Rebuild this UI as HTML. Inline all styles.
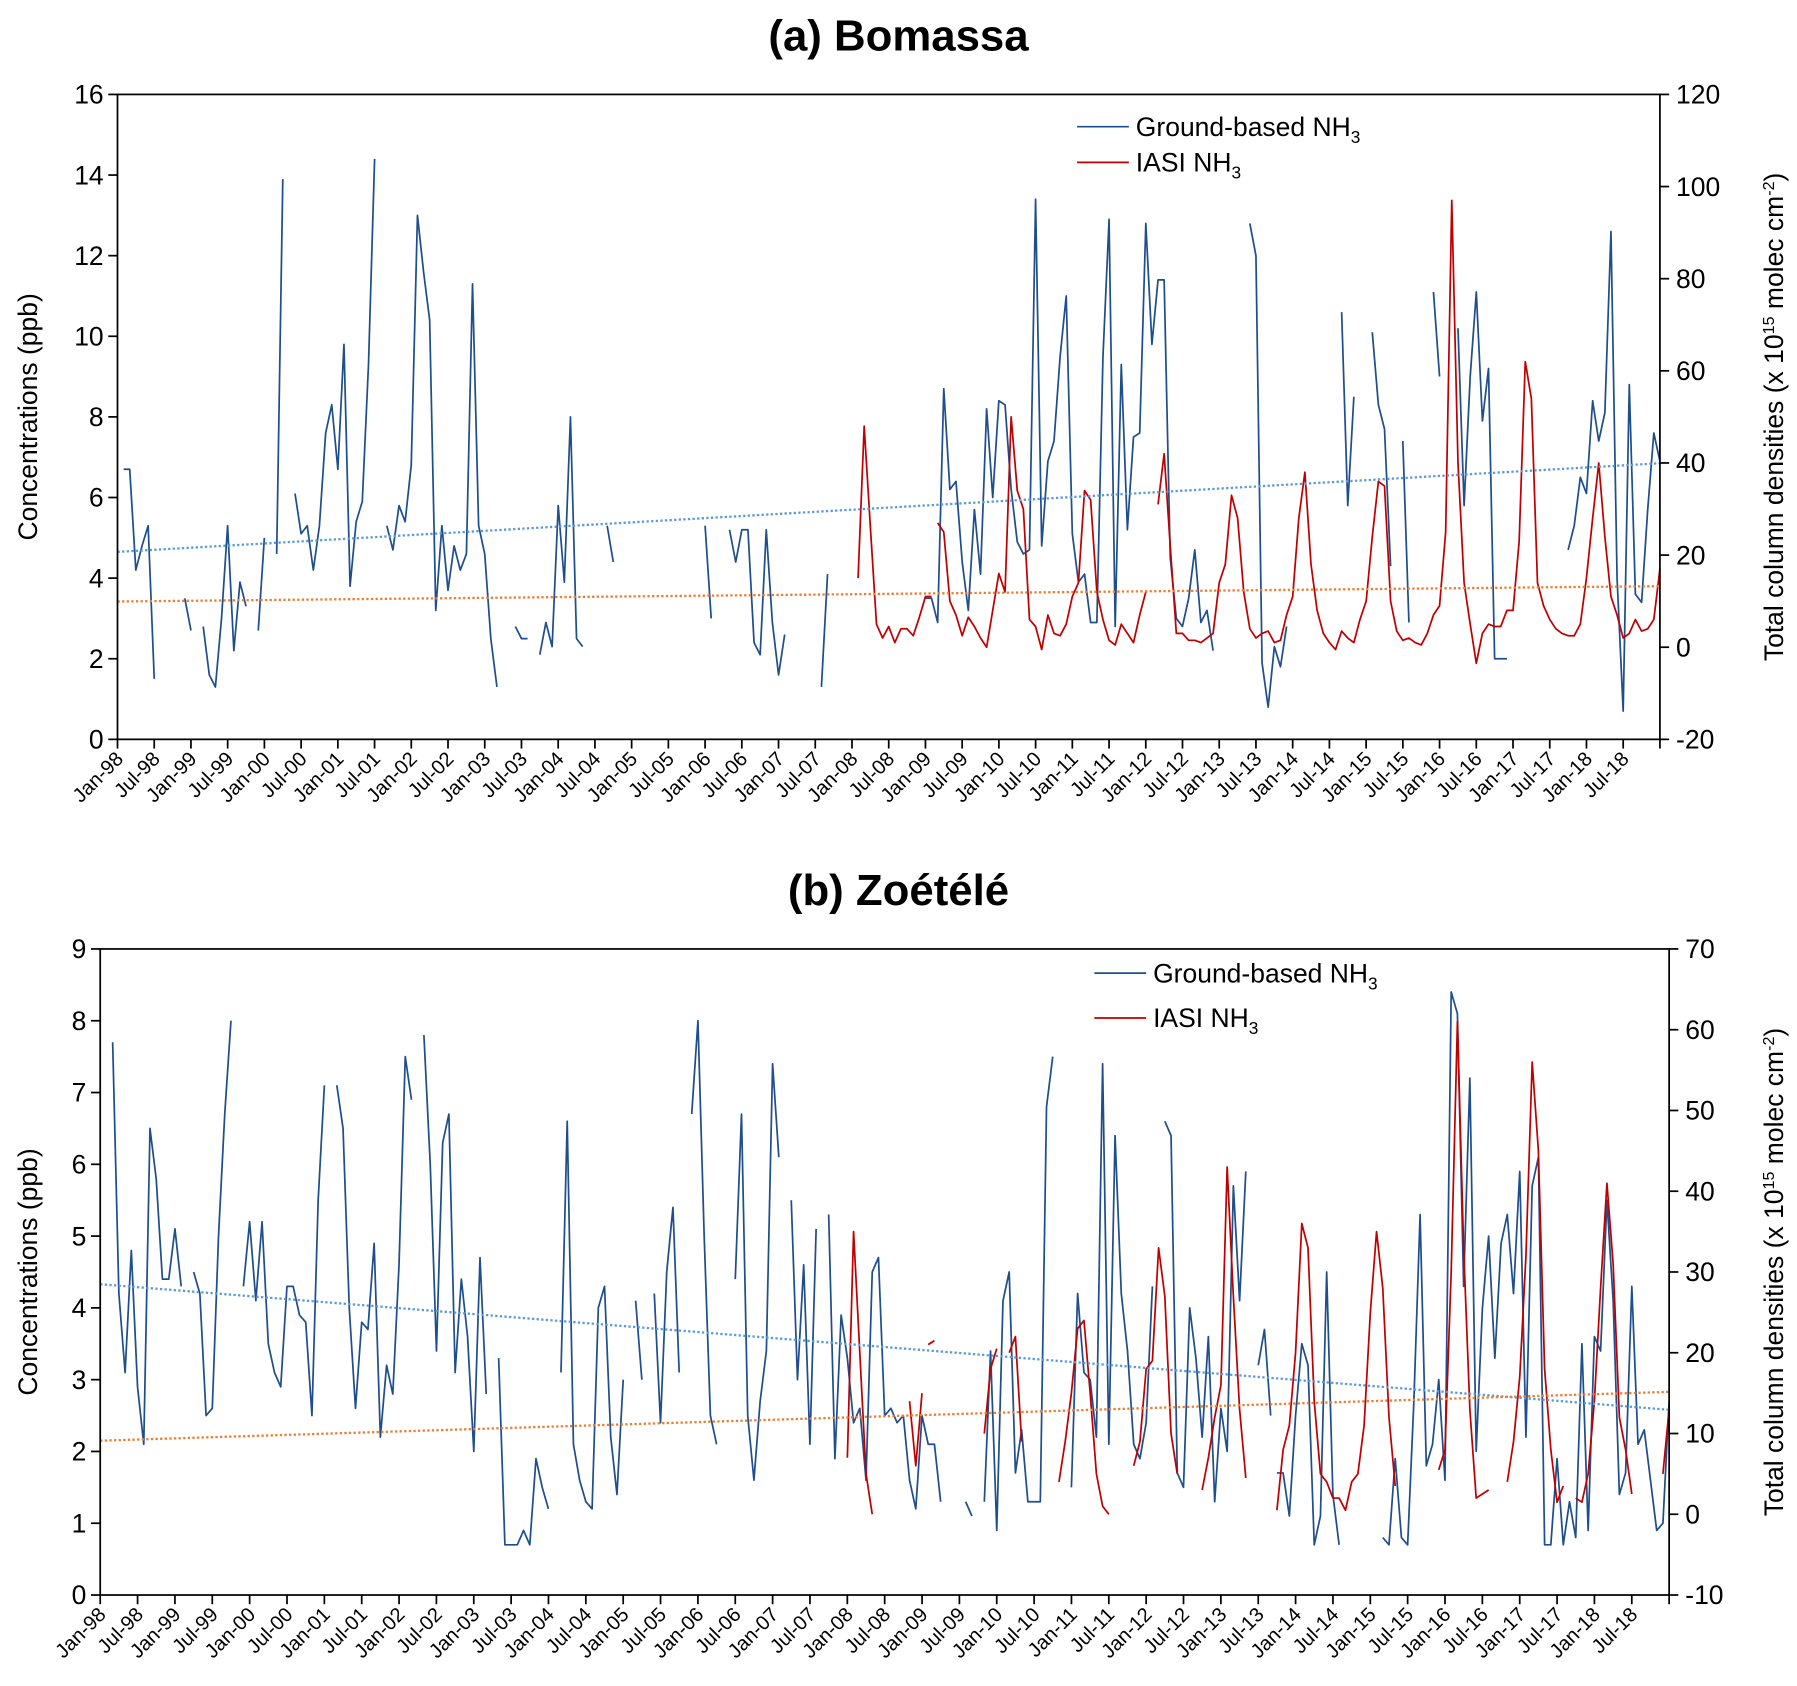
<!DOCTYPE html>
<html><head><meta charset="utf-8"><style>
html,body{margin:0;padding:0;background:#fff;}
svg{display:block;font-family:"Liberation Sans",Arial,sans-serif;}
</style></head><body>
<svg id="fig" width="1797" height="1686" viewBox="0 0 1560 1464" preserveAspectRatio="none" xmlns="http://www.w3.org/2000/svg">
<rect width="1560" height="1464" fill="#fff"/>
</svg>
<script>
const xTickLabels = [];
for (let y = 98; y <= 118; y++) { xTickLabels.push("Jan-" + String(y % 100).padStart(2,"0")); xTickLabels.push("Jul-" + String(y % 100).padStart(2,"0")); }

// Panel (a) Bomassa
const aGroundStarts = [1,11,14,23,26,29,44,65,69,80,96,100,115,132,185,200,205,210,215,219,237];
const aGroundValues = [
 [6.7,6.7,4.2,4.8,5.3,1.5],[3.5,2.7],[2.8,1.6,1.3,3,5.3,2.2,3.9,3.3],[2.7,5],[4.6,13.9],
 [6.1,5.1,5.3,4.2,5.3,7.6,8.3,6.7,9.8,3.8,5.4,5.9,9.3,14.4],
 [5.3,4.7,5.8,5.4,6.8,13,11.6,10.4,3.2,5.3,3.7,4.8,4.2,4.6,11.3,5.3,4.6,2.5,1.3],
 [2.8,2.5,2.5],[2.1,2.9,2.3,5.8,3.9,8,2.5,2.3],[5.3,4.4],[5.3,3],
 [5.2,4.4,5.2,5.2,2.4,2.1,5.2,2.9,1.6,2.6],[1.3,4.1],
 [3.5,3.5,2.9,8.7,6.2,6.4,4.4,3.2,5.7,4.1,8.2,6,8.4,8.3,6.2,4.9,4.6,4.7,13.4,4.8,6.9,7.4,9.5,11,5.1,3.9,4.1,2.9,2.9,9.5,12.9,2.8,9.3,5.2,7.5,7.6,12.8,9.8,11.4,11.4,4.5,3.0,2.8,3.5,4.7,2.9,3.2,2.2],
 [12.8,12,1.9,0.8,2.3,1.8,2.8],[10.6,5.8,8.5],[10.1,8.3,7.7,4.3],[7.4,2.9],[11.1,9],
 [10.2,5.8,9,11.1,7.9,9.2,2,2,2],
 [4.7,5.3,6.5,6.1,8.4,7.4,8.1,12.6,4,0.7,8.8,3.6,3.4,5.7,7.6,6.9]
];
const aIasiStarts = [121,134,170];
const aIasiValues = [
 [15,48,26,5,2,4.5,1,4,4,2.5,6.5,11,11],
 [27,25,10,7,2.5,6.5,4.5,2,0,8,16,12,50,34,30,6,4.5,-0.5,7,3,2.5,5,11,14,34,32,12,6,1.5,0.5,5,3,1,7,12],
 [31,42,22,3,3,1.5,1.5,1,2,3,14,18,33,28,12,4,2,3,3.5,1,1.5,7,11,28,38,18,8,3,1,-0.5,3.5,2,1,6,10,24,36,35,10,3.5,1.5,2,1,0.5,3,7,9,25,97,40,14,5,-3.5,3,5,4.5,4.5,8,8,23,62,54,14,9,6,4,3,2.5,2.5,5,15,28,40,24,11,7,2,3,6,3.5,4,6,17]
];
const aGroundTrend = [4.65, 6.85];
const aIasiTrend = [3.42, 3.8];
const aLeftTicks = [0,2,4,6,8,10,12,14,16];
const aRightTicks = [-20,0,20,40,60,80,100,120];

// Panel (b) Zoétélé
const bGroundStarts = [2,15,23,38,52,64,74,86,89,95,102,111,117,139,142,156,171,186,189,206];
const bGroundValues = [
 [7.7,4.2,3.1,4.8,2.9,2.1,6.5,5.8,4.4,4.4,5.1,4.3],
 [4.5,4.2,2.5,2.6,5,6.7,8],
 [4.3,5.2,4.1,5.2,3.5,3.1,2.9,4.3,4.3,3.9,3.8,2.5,5.5,7.1],
 [7.1,6.5,4,2.6,3.8,3.7,4.9,2.2,3.2,2.8,4.6,7.5,6.9],
 [7.8,6,3.4,6.3,6.7,3.1,4.4,3.6,2,4.7,2.8],
 [3.3,0.7,0.7,0.7,0.9,0.7,1.9,1.5,1.2],
 [3.1,6.6,2.1,1.6,1.3,1.2,4,4.3,2.2,1.4,3],
 [4.1,3],[4.2,2.4,4.5,5.4,3.1],[6.7,8,5,2.5,2.1],
 [4.4,6.7,2.5,1.6,2.7,3.4,7.4,6.1],[5.5,3,4.6,2.1,5.1],
 [5.3,1.9,3.9,3.3,2.4,2.6,1.6,4.5,4.7,2.5,2.6,2.4,2.5,1.6,1.2,2.5,2.1,2.1,1.3],
 [1.3,1.1],
 [1.3,3.4,0.9,4.1,4.5,1.7,2.3,1.3,1.3,1.3,6.8,7.5],
 [1.5,4.2,3.1,3,2.2,7.4,2.1,6.4,4.2,3.4,2.1,1.9,2.4,4.3],
 [6.6,6.4,1.7,1.5,4,3.3,2.2,3.6,1.3,2.6,2.0,5.7,4.1,5.9],
 [3.2,3.7,2.5],
 [1.7,1.7,1.1,2.5,3.5,3.2,0.7,1.1,4.5,1.4,0.7],
 [0.8,0.7,1.9,0.8,0.7,2.7,5.3,1.8,2.1,3,1.6,8.4,8.1,4.3,7.2,2,4,5,3.3,4.9,5.3,4.2,5.9,2.2,5.7,6.1,0.7,0.7,1.9,0.7,1.3,0.8,3.5,0.9,3.6,3.4,5.5,4.1,1.4,1.7,4.3,2.1,2.3,1.6,0.9,1,2.7]
];
const bIasiStarts = [120,130,133,142,146,154,166,177,189,215,226,237,251];
const bIasiValues = [
 [7,35,20,5,0],[14,6,15],[21,21.5],[10,18,20.5],[20,22,9],
 [4,9,15,23,24,15,5,1,0],[6,9,18,19,33,27,10,5],[3,7,12,16,43,27,13,4.5],
 [0.5,8,11,20,36,33,14,5,4,2,2,0.5,4,5,11,25,35,28,12,3.5],
 [5.5,8,30,61,33,13,2,2.5,3],[4,9,17,32,56,45,18,8,1.5,3.5],
 [2,1.5,5,14,28,41,31,12,8,2.5],[5,13]
];
const bGroundTrend = [4.33, 2.58];
const bIasiTrend = [2.15, 2.83];
const bLeftTicks = [0,1,2,3,4,5,6,7,8,9];
const bRightTicks = [-10,0,10,20,30,40,50,60,70];

const NS = "http://www.w3.org/2000/svg";
const svg = document.getElementById("fig");
function mk(tag, attrs, parent) {
  const e = document.createElementNS(NS, tag);
  for (const k in attrs) e.setAttribute(k, attrs[k]);
  (parent || svg).appendChild(e);
  return e;
}

function panel(cfg) {
  const g = mk("g", {});
  
  
  const X = m => cfg.x0 + (cfg.x1 - cfg.x0) * m / 252;
  const YL = v => cfg.yb - (cfg.yb - cfg.yt) * (v - cfg.lmin) / (cfg.lmax - cfg.lmin);
  const YR = v => cfg.yb - (cfg.yb - cfg.yt) * (v - cfg.rmin) / (cfg.rmax - cfg.rmin);

  const t = mk("text", {x: 780, y: cfg.titleY, "text-anchor": "middle", "font-size": 38, "font-weight": "bold"}, g);
  t.textContent = cfg.title;
  
  

  function drawSeries(starts, vals, Y, color, nm) {
    starts.forEach((s, i) => {
      const pts = vals[i].map((v, j) => X(s + j).toFixed(1) + "," + Y(v).toFixed(1)).join(" ");
      const p = mk("polyline", {points: pts, fill: "none", stroke: color, "stroke-width": 1.5, "stroke-linejoin": "round"}, g);
      
      
    });
  }
  drawSeries(cfg.gStarts, cfg.gVals, YL, "#1f4e8c", "ground-based-nh3-line");
  drawSeries(cfg.iStarts, cfg.iVals, YR, "#c00000", "iasi-nh3-line");

  const tr1 = mk("line", {x1: X(0), y1: YL(cfg.gTrend[0]), x2: X(252), y2: YL(cfg.gTrend[1]), stroke: "#5b9bd5", "stroke-width": 2, "stroke-dasharray": "2 2"}, g);
  
  
  const tr2 = mk("line", {x1: X(0), y1: YL(cfg.iTrend[0]), x2: X(252), y2: YL(cfg.iTrend[1]), stroke: "#ed7d31", "stroke-width": 2, "stroke-dasharray": "2 2"}, g);
  
  

  const fr = mk("rect", {x: cfg.x0, y: cfg.yt, width: cfg.x1 - cfg.x0, height: cfg.yb - cfg.yt, fill: "none", stroke: "#000", "stroke-width": 1.5}, g);
  
  

  cfg.lt.forEach(v => {
    mk("line", {x1: cfg.x0 - 8, y1: YL(v), x2: cfg.x0, y2: YL(v), stroke: "#000", "stroke-width": 1.5}, g);
    const l = mk("text", {x: cfg.x0 - 12, y: YL(v) + 8, "text-anchor": "end", "font-size": 23}, g);
    l.textContent = v;
    
    
  });
  cfg.rt.forEach(v => {
    mk("line", {x1: cfg.x1, y1: YR(v), x2: cfg.x1 + 8, y2: YR(v), stroke: "#000", "stroke-width": 1.5}, g);
    const l = mk("text", {x: cfg.x1 + 14, y: YR(v) + 8, "text-anchor": "start", "font-size": 23}, g);
    l.textContent = v;
    
    
  });
  xTickLabels.forEach((lab, i) => {
    const x = X(i * 6);
    mk("line", {x1: x, y1: cfg.yb, x2: x, y2: cfg.yb + 8, stroke: "#000", "stroke-width": 1.5}, g);
    const l = mk("text", {x: x + 6, y: cfg.yb + 18, "text-anchor": "end", "font-size": 17.5, transform: "rotate(-45 " + (x + 6) + " " + (cfg.yb + 18) + ")"}, g);
    l.textContent = lab;
    
    
  });
  mk("line", {x1: cfg.x1, y1: cfg.yb, x2: cfg.x1, y2: cfg.yb + 8, stroke: "#000", "stroke-width": 1.5}, g);

  const cy = (cfg.yt + cfg.yb) / 2;
  const ly = mk("text", {x: 32, y: cy, "text-anchor": "middle", "font-size": 23, transform: "rotate(-90 32 " + cy + ")"}, g);
  ly.textContent = "Concentrations (ppb)";
  
  
  const ry = mk("text", {x: 1548, y: cy, "text-anchor": "middle", "font-size": 23, transform: "rotate(-90 1548 " + cy + ")"}, g);
  ry.innerHTML = 'Total column densities (x 10<tspan dy="-8" font-size="14">15</tspan><tspan dy="8"> molec cm</tspan><tspan dy="-8" font-size="14">-2</tspan><tspan dy="8">)</tspan>';
  
  

  const lg = mk("g", {}, g);
  
  
  [["#1f4e8c", "Ground-based NH", cfg.legY1, "legend-entry-ground"], ["#c00000", "IASI NH", cfg.legY2, "legend-entry-iasi"]].forEach(e => {
    mk("line", {x1: cfg.legX, y1: e[2], x2: cfg.legX + 45, y2: e[2], stroke: e[0], "stroke-width": 1.5}, lg);
    const tx = mk("text", {x: cfg.legX + 51, y: e[2] + 8, "font-size": 23}, lg);
    tx.innerHTML = e[1] + '<tspan dy="6" font-size="15">3</tspan>';
    
    
  });
}

panel({name: "panel-a-bomassa", title: "(a) Bomassa", titleY: 44, x0: 102, x1: 1441, yt: 82, yb: 642,
  lmin: 0, lmax: 16, rmin: -20, rmax: 120, lt: aLeftTicks, rt: aRightTicks,
  gStarts: aGroundStarts, gVals: aGroundValues, iStarts: aIasiStarts, iVals: aIasiValues,
  gTrend: aGroundTrend, iTrend: aIasiTrend, legX: 935, legY1: 110, legY2: 141});
panel({name: "panel-b-zoetele", title: "(b) Zoétélé", titleY: 786, x0: 87, x1: 1449, yt: 824, yb: 1385,
  lmin: 0, lmax: 9, rmin: -10, rmax: 70, lt: bLeftTicks, rt: bRightTicks,
  gStarts: bGroundStarts, gVals: bGroundValues, iStarts: bIasiStarts, iVals: bIasiValues,
  gTrend: bGroundTrend, iTrend: bIasiTrend, legX: 950, legY1: 845, legY2: 884});
</script>
</body></html>
